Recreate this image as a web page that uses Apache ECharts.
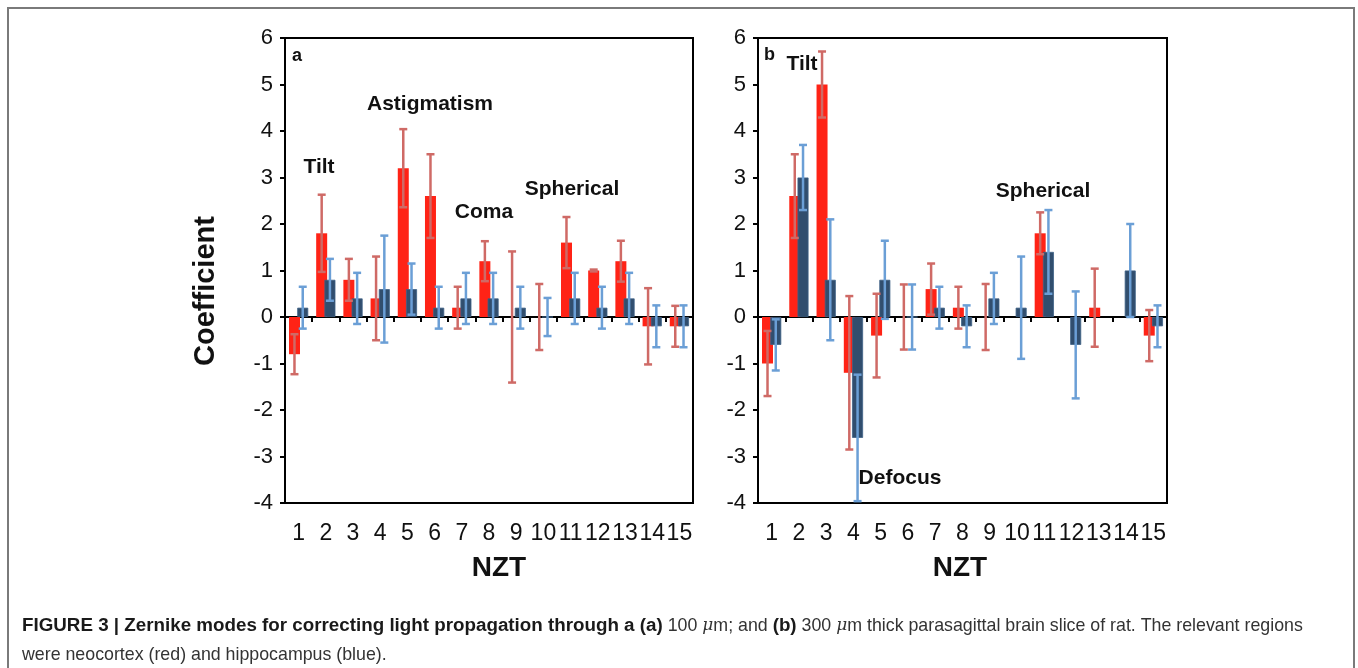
<!DOCTYPE html>
<html>
<head>
<meta charset="utf-8">
<script src="https://cdn.jsdelivr.net/npm/echarts@6/dist/echarts.min.js"></script>
<style>
html,body{margin:0;padding:0;background:#fff;}
#c{width:1358px;height:668px;}
</style>
</head>
<body>
<div id="c"></div>
<script>
// ---- data ----
const categories = ['1','2','3','4','5','6','7','8','9','10','11','12','13','14','15'];
const yTickMin = -4, yTickMax = 6, yTickStep = 1;

// panel a (100 um): neocortex (red), hippocampus (blue)
const aNeoVal = [-0.8, 1.8, 0.8, 0.4, 3.2, 2.6, 0.2, 1.2, 0, 0, 1.6, 1.0, 1.2, -0.2, -0.2];
const aNeoErr = [0.43, 0.83, 0.45, 0.9, 0.84, 0.9, 0.45, 0.43, 1.41, 0.71, 0.55, 0.02, 0.44, 0.82, 0.44];
const aHipVal = [0.2, 0.8, 0.4, 0.6, 0.6, 0.2, 0.4, 0.4, 0.2, 0, 0.4, 0.2, 0.4, -0.2, -0.2];
const aHipErr = [0.45, 0.45, 0.55, 1.15, 0.55, 0.45, 0.55, 0.55, 0.45, 0.41, 0.55, 0.45, 0.55, 0.45, 0.45];

// panel b (300 um)
const bNeoVal = [-1.0, 2.6, 5.0, -1.2, -0.4, 0, 0.6, 0.2, 0, null, 1.8, null, 0.2, null, -0.4];
const bNeoErr = [0.7, 0.9, 0.71, 1.65, 0.9, 0.7, 0.55, 0.45, 0.71, null, 0.45, null, 0.84, null, 0.55];
const bHipVal = [-0.6, 3.0, 0.8, -2.6, 0.8, 0, 0.2, -0.2, 0.4, 0.2, 1.4, -0.6, null, 1.0, -0.2];
const bHipErr = [0.55, 0.7, 1.3, 1.36, 0.84, 0.7, 0.45, 0.45, 0.55, 1.1, 0.9, 1.15, null, 1.0, 0.45];

const annotationsA = [
  {text: 'a', x: 292, y: 56, size: 18},
  {text: 'Tilt', x: 319, y: 167, size: 21, center: true},
  {text: 'Astigmatism', x: 430, y: 104, size: 21, center: true},
  {text: 'Coma', x: 484, y: 212, size: 21, center: true},
  {text: 'Spherical', x: 572, y: 189, size: 21, center: true}
];
const annotationsB = [
  {text: 'b', x: 764, y: 55, size: 18},
  {text: 'Tilt', x: 802, y: 64, size: 21, center: true},
  {text: 'Spherical', x: 1043, y: 191, size: 21, center: true},
  {text: 'Defocus', x: 900, y: 478, size: 21, center: true}
];

// ---- styles ----
const RED = '#ff2316', BLUE = '#314e6e';
const RED_ERR = '#cf6a66', BLUE_ERR = '#6b9fd6';
const BAR_W = 11, BAR_GAP = -0.25;
const OFF = (BAR_W + BAR_W * BAR_GAP) / 2;
const FONT = "'Liberation Sans', Arial, sans-serif";

function errData(vals, errs) {
  const out = [];
  vals.forEach((v, i) => { if (v !== null && errs[i] !== null) out.push([i, v, errs[i]]); });
  return out;
}
function errRender(offset, color) {
  return function (params, api) {
    const i = api.value(0), v = api.value(1), e = api.value(2);
    const top = api.coord([i, v + e]);
    const bot = api.coord([i, v - e]);
    const x = top[0] + offset;
    const cw = 4;
    const st = {stroke: color, lineWidth: 2.5};
    return {type: 'group', children: [
      {type: 'line', shape: {x1: x, y1: top[1], x2: x, y2: bot[1]}, style: st},
      {type: 'line', shape: {x1: x - cw, y1: top[1], x2: x + cw, y2: top[1]}, style: st},
      {type: 'line', shape: {x1: x - cw, y1: bot[1], x2: x + cw, y2: bot[1]}, style: st}
    ]};
  };
}

const grids = [
  {left: 285, top: 38, width: 408, height: 465},
  {left: 758, top: 38, width: 409, height: 465}
];

const xAxes = [], yAxes = [], series = [];
[0, 1].forEach(g => {
  xAxes.push({
    type: 'category', gridIndex: g, data: categories, position: 'bottom',
    axisLine: {show: true, onZero: false, lineStyle: {color: '#000', width: 2}},
    axisTick: {show: false},
    axisLabel: {show: true, interval: 0, color: '#111', fontSize: 23, fontFamily: FONT, margin: 19}
  });
  xAxes.push({
    type: 'category', gridIndex: g, data: categories, position: 'bottom',
    axisLine: {show: true, onZero: true, lineStyle: {color: '#000', width: 2}},
    axisTick: {show: true, interval: 0, length: 5, lineStyle: {color: '#000', width: 2}},
    axisLabel: {show: false}
  });
  yAxes.push({
    type: 'value', gridIndex: g, min: yTickMin, max: yTickMax, interval: yTickStep,
    axisLine: {show: true, onZero: false, lineStyle: {color: '#000', width: 2}},
    axisTick: {show: true, length: 5, lineStyle: {color: '#000', width: 2}},
    splitLine: {show: false},
    axisLabel: {color: '#111', fontSize: 22, fontFamily: FONT, margin: 12}
  });
});

const panels = [
  {neo: aNeoVal, neoE: aNeoErr, hip: aHipVal, hipE: aHipErr},
  {neo: bNeoVal, neoE: bNeoErr, hip: bHipVal, hipE: bHipErr}
];
panels.forEach((p, g) => {
  const xi = g * 2;
  series.push({type: 'bar', xAxisIndex: xi, yAxisIndex: g, data: p.neo, barWidth: BAR_W, barGap: (BAR_GAP * 100) + '%',
    itemStyle: {color: RED}, silent: true, z: 2});
  series.push({type: 'bar', xAxisIndex: xi, yAxisIndex: g, data: p.hip, barWidth: BAR_W, barGap: (BAR_GAP * 100) + '%',
    itemStyle: {color: BLUE, borderColor: '#3f6287', borderWidth: 0.8}, silent: true, z: 2});
  series.push({type: 'custom', xAxisIndex: xi, yAxisIndex: g, data: errData(p.neo, p.neoE),
    renderItem: errRender(-OFF, RED_ERR), z: 5, silent: true});
  series.push({type: 'custom', xAxisIndex: xi, yAxisIndex: g, data: errData(p.hip, p.hipE),
    renderItem: errRender(OFF, BLUE_ERR), z: 5, silent: true});
});

const graphics = [
  {type: 'rect', shape: {x: 8, y: 8, width: 1346, height: 700}, style: {fill: 'none', stroke: '#7a7a7a', lineWidth: 2}, z: 0},
  {type: 'text', x: 206, y: 291, rotation: Math.PI / 2, style: {text: 'Coefficient', fill: '#111', font: "bold 29px " + FONT, textAlign: 'center', textVerticalAlign: 'middle'}},
  {type: 'text', x: 499, y: 568, style: {text: 'NZT', fill: '#111', font: "bold 28px " + FONT, textAlign: 'center', textVerticalAlign: 'middle'}},
  {type: 'text', x: 960, y: 568, style: {text: 'NZT', fill: '#111', font: "bold 28px " + FONT, textAlign: 'center', textVerticalAlign: 'middle'}}
];
annotationsA.concat(annotationsB).forEach(a => {
  graphics.push({type: 'text', x: a.x, y: a.y, z: 10, style: {text: a.text, fill: '#111', font: 'bold ' + a.size + 'px ' + FONT,
    textAlign: a.center ? 'center' : 'left', textVerticalAlign: 'middle'}});
});
graphics.push({
  type: 'text', x: 22, y: 626, z: 10,
  style: {
    text: '{b|FIGURE 3 | Zernike modes for correcting light propagation through a (a)}{n| 100 }{i|μ}{n|m; and }{b|(b)}{n| 300 }{i|μ}{n|m thick parasagittal brain slice of rat. The relevant regions}',
    textVerticalAlign: 'middle',
    rich: {
      b: {fontFamily: FONT, fontWeight: 'bold', fontSize: 18.8, fill: '#1a1a1a'},
      n: {fontFamily: FONT, fontSize: 17.8, fill: '#333'},
      i: {fontFamily: "'DejaVu Serif', serif", fontStyle: 'italic', fontSize: 17, fill: '#333'}
    }
  }
});
graphics.push({type: 'text', x: 22, y: 655, z: 10,
  style: {text: 'were neocortex (red) and hippocampus (blue).', font: '17.8px ' + FONT, fill: '#333', textVerticalAlign: 'middle'}});

const chart = echarts.init(document.getElementById('c'), null, {renderer: 'canvas'});
chart.setOption({
  animation: false,
  backgroundColor: '#fff',
  grid: grids.map(g => Object.assign({show: true, borderColor: '#000', borderWidth: 2, containLabel: false}, g)),
  xAxis: xAxes,
  yAxis: yAxes,
  series: series,
  graphic: graphics
});
</script>
</body>
</html>
